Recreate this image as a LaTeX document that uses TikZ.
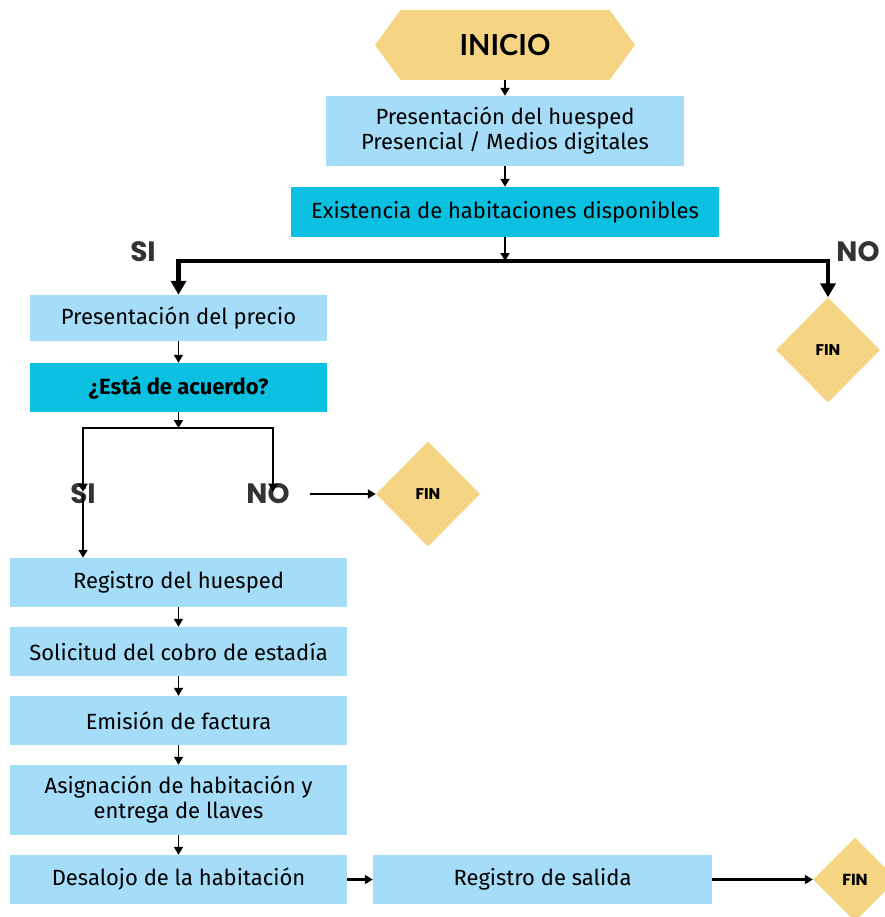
\documentclass[tikz,border=0pt]{standalone}
\usepackage{fontspec}
\setmainfont{Fira Sans}
\newfontfamily\labelfont{Poppins}
\newfontfamily\titlefont{Lato}
\usetikzlibrary{arrows.meta,shapes.geometric,shapes.symbols}

\definecolor{pasoazul}{HTML}{A5DCF7}
\definecolor{pasocian}{HTML}{0BC0E0}
\definecolor{finamarillo}{HTML}{F5D584}
\definecolor{etiqueta}{HTML}{333333}

\tikzset{
  paso/.style={fill=pasoazul, inner sep=0pt, align=center,
    font=\fontsize{22}{25}\selectfont},
  pregunta/.style={paso, fill=pasocian},
  fin/.style={diamond, fill=finamarillo, inner sep=0pt,
    minimum width=104pt, minimum height=105pt,
    font=\labelfont\bfseries\fontsize{15.5}{17}\selectfont},
  rotulo/.style={text=etiqueta, inner sep=0pt,
    font=\labelfont\bfseries\fontsize{28}{30}\selectfont},
  flecha/.style={-{Triangle[length=8pt,width=9pt]}, line width=1.8pt},
  gruesa/.style={-{Triangle[length=14pt,width=15pt]}, line width=4.5pt},
}

\begin{document}
\begin{tikzpicture}[x=1pt,y=-1pt]
    \useasboundingbox (0,0) rectangle (884,917);
    % inicio y primeros pasos
    \node[signal, signal to=west and east, signal pointer angle=108,
      fill=finamarillo, minimum width=260pt, minimum height=70pt, inner sep=0pt,
      font=\titlefont\bfseries\fontsize{29}{32}\selectfont] (inicio) at (505,45) {INICIO};
    \node[paso, minimum width=358pt, minimum height=70pt] (pres) at (505,131)
      {Presentación del huesped\\Presencial / Medios digitales};
    \node[pregunta, minimum width=428pt, minimum height=50pt] (exist) at (505,212)
      {Existencia de habitaciones disponibles};
    \draw[flecha] (inicio) -- (pres);
    \draw[flecha] (pres) -- (exist);

    % primera bifurcacion
    \coordinate (rama) at (505,261);
    \node[rotulo] (si1) at (143,252) {SI};
    \node[rotulo] (no1) at (858,252) {NO};
    \node[paso, minimum width=297pt, minimum height=46pt] (precio) at (178.5,318)
      {Presentación del precio};
    \node[fin] (fin1) at (828,350) {FIN};
    \draw[flecha] (exist) -- (rama);
    \draw[gruesa] (rama) -| (precio.north);
    \draw[gruesa] (rama) -| (fin1.north);

    \node[pregunta, minimum width=297pt, minimum height=49pt,
      font=\bfseries\fontsize{22}{25}\selectfont] (acuerdo) at (178.5,387.5)
      {¿Está de acuerdo?};
    \draw[flecha] (precio) -- (acuerdo);

    % segunda bifurcacion
    \coordinate (rama2) at (178.5,428);
    \node[rotulo] (si2) at (83,494) {SI};
    \node[rotulo] (no2) at (268,494) {NO};
    \node[fin] (fin2) at (428,494) {FIN};
    \draw[flecha] (acuerdo) -- (rama2);
    \draw[flecha] (rama2) -| ([yshift=-8pt]si2.north);
    \draw[flecha] (rama2) -| ([xshift=5pt,yshift=-8pt]no2.north);
    \draw[flecha] ([xshift=20pt]no2.east) -- (fin2.west);

    % registro y salida
    \node[paso, minimum width=337pt, minimum height=49pt] (registro) at (178.5,582.5)
      {Registro del huesped};
    \node[paso, minimum width=337pt, minimum height=49pt] (cobro) at (178.5,651.5)
      {Solicitud del cobro de estadía};
    \node[paso, minimum width=337pt, minimum height=49pt] (factura) at (178.5,720.5)
      {Emisión de factura};
    \node[paso, minimum width=337pt, minimum height=70pt] (asigna) at (178.5,800)
      {Asignación de habitación y\\entrega de llaves};
    \node[paso, minimum width=337pt, minimum height=49pt] (desalojo) at (178.5,879.5)
      {Desalojo de la habitación};
    \node[paso, minimum width=339pt, minimum height=49pt] (salida) at (542.5,879.5)
      {Registro de salida};
    \node[fin, minimum width=84pt, minimum height=84pt,
      font=\labelfont\bfseries\fontsize{16}{18}\selectfont] (fin3) at (855,879.5) {FIN};
    \draw[flecha] ([yshift=10pt]si2.south) -- (registro.north -| si2);
    \draw[flecha] (registro) -- (cobro);
    \draw[flecha] (cobro) -- (factura);
    \draw[flecha] (factura) -- (asigna);
    \draw[flecha] (asigna) -- (desalojo);
    \draw[flecha, line width=2.6pt] (desalojo) -- (salida);
    \draw[flecha, line width=2.6pt] (salida) -- (fin3);
\end{tikzpicture}
\end{document}
